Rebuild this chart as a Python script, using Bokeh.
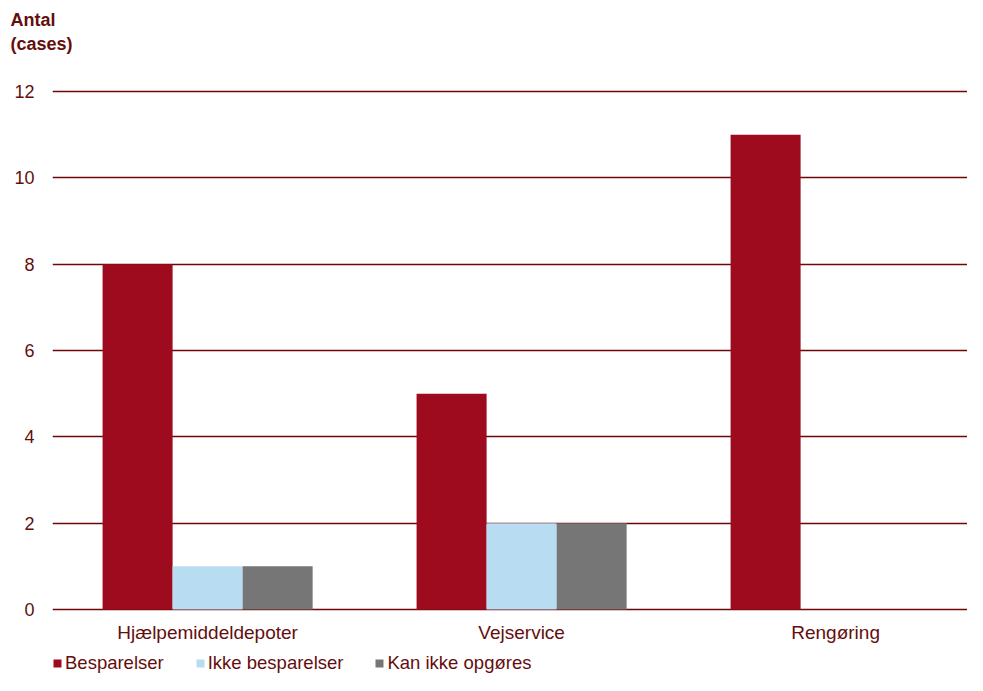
from bokeh.plotting import figure
from bokeh.models import (ColumnDataSource, Range1d, FixedTicker, Legend, LegendItem, Title)
from bokeh.core.properties import value
from bokeh.transform import dodge
from bokeh.embed import file_html
from bokeh.resources import INLINE

categories = ["Hjælpemiddeldepoter", "Vejservice", "Rengøring"]
series_names = ["Besparelser", "Ikke besparelser", "Kan ikke opgøres"]
besparelser = [8, 5, 11]
ikke_besparelser = [1, 2, 0]
kan_ikke = [1, 2, 0]
y_ticks = [0, 2, 4, 6, 8, 10, 12]

colors = ["#9e0b1e", "#b8dcf2", "#767676"]
text_color = "#640e0e"
grid_color = "#6e0808"
font = "Liberation Sans"

W, H = 967, 675
top_border = 56
px_per_unit = 518 / 12.0          # 12 units span 518 px
frame_h = H - top_border
y_start = -(H - 609) / px_per_unit
y_end = y_start + frame_h / px_per_unit

xpos = list(range(len(categories)))
src = ColumnDataSource(dict(x=xpos, b=besparelser, i=ikke_besparelser, k=kan_ikke))
lab_src = ColumnDataSource(dict(x=xpos, y=[-23 / px_per_unit] * len(xpos), t=categories))

p = figure(width=W, height=H, output_backend="svg", toolbar_location=None,
           x_range=Range1d(-0.494, 2.42), y_range=Range1d(y_start, y_end),
           min_border_left=52, min_border_right=0, min_border_top=top_border, min_border_bottom=0)
p.outline_line_color = None
p.background_fill_color = "white"
p.border_fill_color = "white"
p.title.visible = False
p.xaxis.visible = False

bw = 0.223
renderers = []
for field, off, c in zip(["b", "i", "k"], [-bw, 0, bw], colors):
    r = p.vbar(x=dodge("x", off, range=p.x_range), top=field, width=bw, bottom=0,
               source=src, fill_color=c, line_color=None)
    renderers.append(r)

# category labels
p.text(x="x", y="y", text="t", source=lab_src, text_align="center", text_baseline="middle",
       text_font=value(font), text_font_size="19px", text_color=text_color)

# y axis
p.yaxis.ticker = FixedTicker(ticks=y_ticks)
p.yaxis.axis_line_color = None
p.yaxis.major_tick_line_color = None
p.yaxis.minor_tick_line_color = None
p.yaxis.major_tick_in = 0
p.yaxis.major_tick_out = 0
p.yaxis.major_label_standoff = 18
p.yaxis.major_label_text_font = font
p.yaxis.major_label_text_font_size = "18px"
p.yaxis.major_label_text_color = text_color

p.xgrid.grid_line_color = None
p.ygrid.ticker = FixedTicker(ticks=y_ticks)
p.ygrid.grid_line_color = grid_color
p.ygrid.grid_line_width = 1.3

# axis title (two lines, closest-to-frame first)
for txt, so in [("(cases)", 5), ("Antal", 0)]:
    p.add_layout(Title(text=txt, align="left", offset=-42, standoff=so,
                       text_font=font, text_font_size="18px", text_font_style="bold",
                       text_color=text_color), "above")

legend = Legend(items=[LegendItem(label=n, renderers=[r]) for n, r in zip(series_names, renderers)],
                orientation="horizontal", location=(0, 1),
                glyph_width=10, glyph_height=10, label_standoff=3, spacing=31,
                padding=0, margin=0, border_line_color=None, background_fill_alpha=0,
                label_text_font=font, label_text_font_size="18.5px", label_text_color=text_color,
                label_height=18)
p.add_layout(legend, "center")

open("out.html", "w").write(file_html(p, INLINE))
